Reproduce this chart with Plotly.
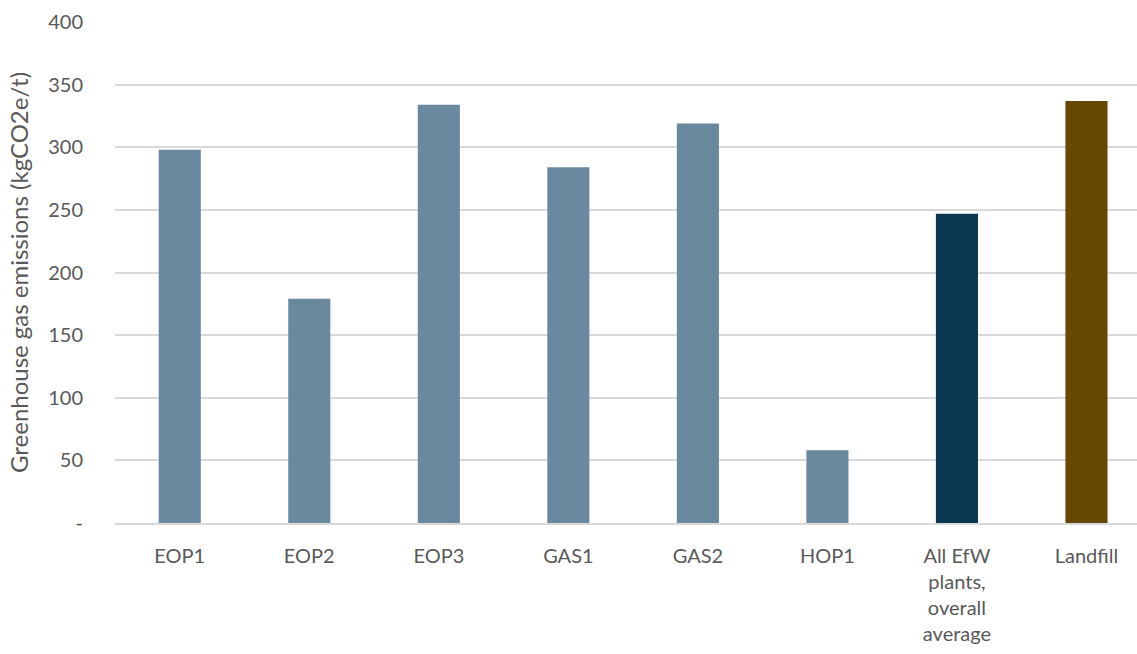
import plotly.graph_objects as go

# Emissions per tonne of waste by plant
categories = ["EOP1", "EOP2", "EOP3", "GAS1", "GAS2", "HOP1",
              "All EfW<br>plants,<br>overall<br>average", "Landfill"]
emissions = [298, 179, 334, 284, 319, 58, 247, 337]
bar_colors = ["#6a899e"] * 6 + ["#0b3751", "#664800"]

y_tick_vals = [0, 50, 100, 150, 200, 250, 300, 350, 400]
y_tick_text = ["-", "50", "100", "150", "200", "250", "300", "350", "400"]

font_family = "Lato, 'Open Sans', sans-serif"
text_color = "#595959"

fig = go.Figure(
    go.Bar(
        x=list(range(len(categories))),
        y=emissions,
        marker=dict(color=bar_colors, line=dict(width=0)),
        width=0.325,
    )
)

fig.update_layout(
    width=1137,
    height=654,
    margin=dict(l=115, r=0, t=22, b=131),
    paper_bgcolor="white",
    plot_bgcolor="white",
    showlegend=False,
    font=dict(family=font_family, color=text_color),
    xaxis=dict(
        range=[-0.5, 7.39],
        tickmode="array",
        tickvals=list(range(len(categories))),
        ticktext=categories,
        tickfont=dict(size=20, color=text_color),
        showgrid=False,
        showline=True,
        linecolor="#d9d9d9",
        linewidth=2,
        ticks="outside",
        ticklen=14,
        tickcolor="rgba(0,0,0,0)",
        zeroline=False,
    ),
    yaxis=dict(
        range=[0, 400],
        tickmode="array",
        tickvals=y_tick_vals,
        ticktext=y_tick_text,
        tickfont=dict(size=20, color=text_color),
        showgrid=True,
        gridcolor="#d9d9d9",
        gridwidth=2,
        zeroline=False,
        showline=False,
        ticks="outside",
        ticklen=27,
        tickcolor="rgba(0,0,0,0)",
        title=dict(
            text="Greenhouse gas emissions (kgCO2e/t)",
            font=dict(size=24, color=text_color),
            standoff=12,
        ),
    ),
)

fig.write_html("out.html")
